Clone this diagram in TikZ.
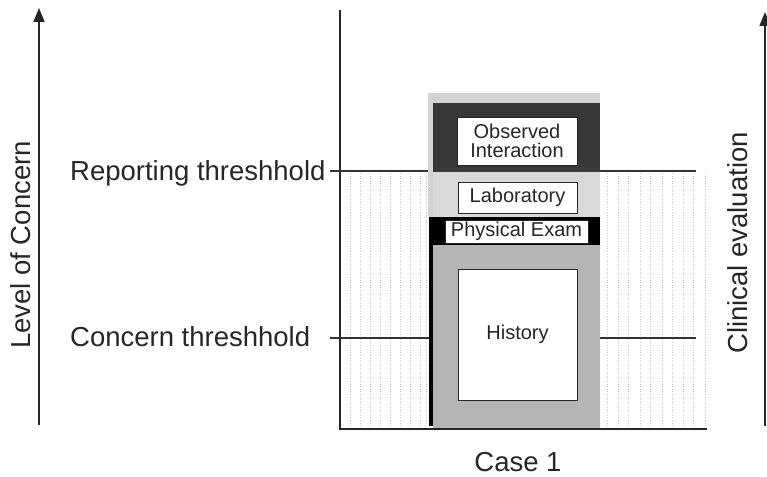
\documentclass[tikz,border=0pt]{standalone}
\usepackage{fontspec}
\setmainfont{Liberation Sans}
\usetikzlibrary{arrows.meta}
\begin{document}
\begin{tikzpicture}[x=1pt,y=-1pt,
  lbl/.style={font=\fontsize{27.5}{30}\selectfont, text=black!85, inner sep=0pt},
  inlbl/.style={font=\fontsize{20}{18.5}\selectfont, text=black!85, draw=black!85, line width=1pt, fill=white, inner sep=0pt, align=center},
  axisline/.style={line width=1.5pt, draw=black!85},
  thr/.style={line width=1.4pt, draw=black!80},
  hatchline/.style={draw=gray!45, line width=0.6pt, dotted},
  tip/.style={-{Triangle[length=14pt,width=11pt]}}]
\useasboundingbox (0,0) rectangle (767,476);

% faint dotted shading on both sides
\foreach \x in {350,360,...,420,426} \draw[hatchline] (\x,173) -- (\x,426);
\foreach \x in {607,618,628,640,650,662,672,683,693,705} \draw[hatchline] (\x,173) -- (\x,426);

% axes
\coordinate (lb) at (39,425);
\coordinate (lt) at (39,8);
\draw[axisline, tip] (lb) -- (lt);
\coordinate (rb) at (765,426);
\coordinate (rt) at (765,12);
\draw[axisline, tip] (rb) -- (rt);
\coordinate (ab) at (340,429);
\coordinate (at) at (340,10);
\coordinate (ae) at (707,429);
\draw[axisline] (at) -- (ab) -- (ae);

% threshold lines
\coordinate (r1) at (330,171);
\coordinate (r2) at (696,171);
\coordinate (c1) at (330,338);
\coordinate (c2) at (696,338);
\draw[thr] (r1) -- (r2);
\draw[thr] (c1) -- (c2);

% stacked column
\fill[gray!35] (428,93) rectangle (600,103);
\fill[gray!35] (428,103) rectangle (433,217);
\fill[black!78] (433,103) rectangle (600,172);
\fill[gray!30] (433,172) rectangle (600,217);
\fill[black] (433,217) rectangle (600,245);
\fill[gray!58] (433,245) rectangle (600,428);
\fill[black] (429,217) rectangle (433,426);

\node[inlbl, minimum width=120pt, minimum height=48pt] (obs) at (517,141) {Observed\\Interaction};
\node[inlbl, minimum width=119pt, minimum height=31pt] (lab) at (517.5,197.5) {Laboratory};
\node[inlbl, minimum width=143pt, minimum height=23pt] (phy) at (516.5,231.5) {Physical Exam};
\node[inlbl, minimum width=119pt, minimum height=131pt] (his) at (517.5,334.5) {History};

% labels
\node[lbl, anchor=west] (rep) at (70,173) {Reporting threshhold};
\node[lbl, anchor=west] (con) at (70,337) {Concern threshhold};
\node[lbl, rotate=90] (loc) at (21,245) {Level of Concern};
\node[lbl, rotate=90] (clin) at (738,243) {Clinical evaluation};
\node[lbl] (case) at (518,462) {Case 1};
\end{tikzpicture}
\end{document}
